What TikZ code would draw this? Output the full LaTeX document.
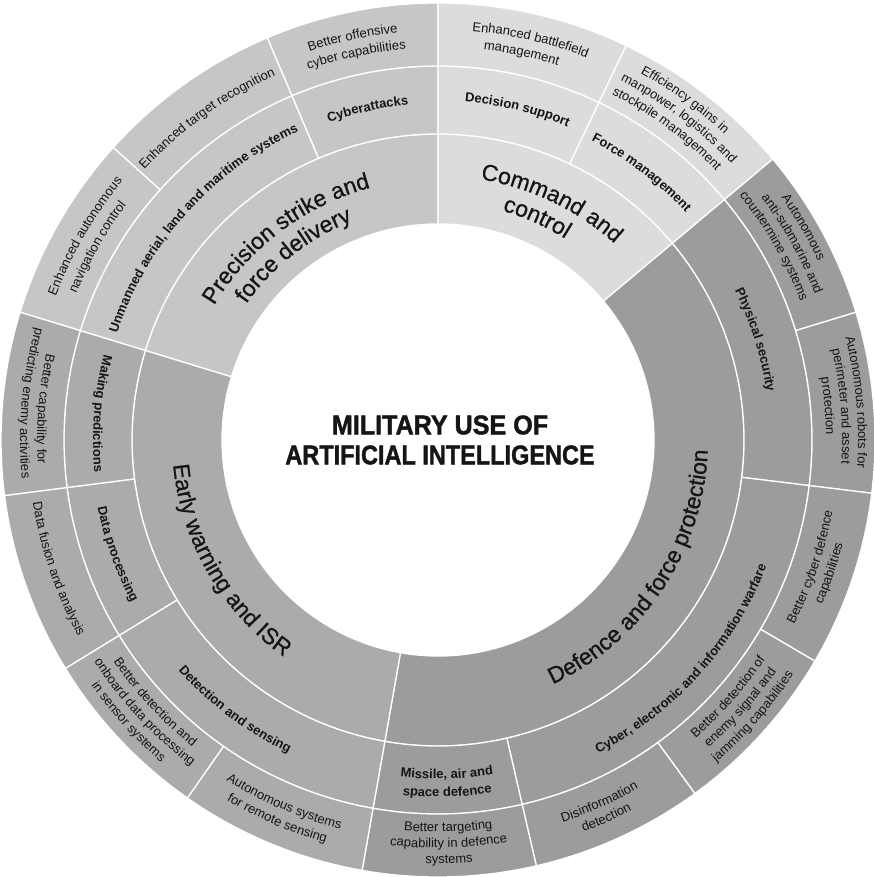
\documentclass[tikz,border=0pt]{standalone}
\usepackage{fontspec}
\usepackage{graphicx}
\setmainfont{Liberation Sans}
\newfontfamily\titlefont{Liberation Sans Bold}[FakeBold=1.6]
\newfontfamily\catfont{Liberation Sans}[FakeBold=0.7]
\usetikzlibrary{decorations.text}
\definecolor{cP}{HTML}{C6C6C6}
\definecolor{cC}{HTML}{DCDCDC}
\definecolor{cD}{HTML}{9C9C9C}
\definecolor{cE}{HTML}{ABABAB}
\definecolor{ink}{HTML}{151515}
\tikzset{segline/.style={draw=white,line width=1.3pt}}
% #1 start angle, #2 end angle, #3 inner radius, #4 outer radius, #5 colour
\newcommand\ringseg[5]{%
  \filldraw[segline,fill=#5] (#1:#3pt) arc[start angle=#1,end angle=#2,radius=#3pt]
    -- (#2:#4pt) arc[start angle=#2,end angle=#1,radius=#4pt] -- cycle;}
% #1 mid angle, #2 radius of text centre, #3 t (clockwise, tops out) / b (anticlockwise, tops in),
% #4 font size, #5 font switches, #6 text
\newcommand\arclabel[6]{%
  \pgfmathsetmacro\lsa{#1+45}%
  \pgfmathsetmacro\lea{#1-45}%
  \if#3t%
    \pgfmathsetmacro\lrb{#2-0.3*#4}%
    \path[decorate,decoration={text along path,text align=center,text color=ink,
      text={|\fontsize{#4}{#4}\selectfont#5|#6}}]
      (\lsa:\lrb pt) arc[start angle=\lsa,end angle=\lea,radius=\lrb pt];%
  \else
    \pgfmathsetmacro\lrb{#2+0.3*#4}%
    \path[decorate,decoration={text along path,text align=center,text color=ink,
      text={|\fontsize{#4}{#4}\selectfont#5|#6}}]
      (\lea:\lrb pt) arc[start angle=\lea,end angle=\lsa,radius=\lrb pt];%
  \fi}
\begin{document}
\begin{tikzpicture}
\useasboundingbox[fill=white] (-438pt,-437pt) rectangle (435pt,440pt);
% level 1
\ringseg{90}{163}{216}{306}{cP}
\ringseg{40}{90}{216}{306}{cC}
\ringseg{-100}{40}{216}{306}{cD}
\ringseg{163}{260}{216}{306}{cE}
% level 2
\ringseg{90}{113}{306}{374}{cP}
\ringseg{113}{163}{306}{374}{cP}
\ringseg{64.5}{90}{306}{374}{cC}
\ringseg{40}{64.5}{306}{374}{cC}
\ringseg{-7}{40}{306}{374}{cD}
\ringseg{-77}{-7}{306}{374}{cD}
\ringseg{-100}{-77}{306}{374}{cD}
\ringseg{211.5}{260}{306}{374}{cE}
\ringseg{187.3}{211.5}{306}{374}{cE}
\ringseg{163}{187.3}{306}{374}{cE}
% level 3
\ringseg{90}{113}{374}{437}{cP}
\ringseg{113}{138}{374}{437}{cP}
\ringseg{138}{163}{374}{437}{cP}
\ringseg{64.5}{90}{374}{437}{cC}
\ringseg{40}{64.5}{374}{437}{cC}
\ringseg{17}{40}{374}{437}{cD}
\ringseg{-7}{17}{374}{437}{cD}
\ringseg{-30.4}{-7}{374}{437}{cD}
\ringseg{-54}{-30.4}{374}{437}{cD}
\ringseg{-77}{-54}{374}{437}{cD}
\ringseg{-100}{-77}{374}{437}{cD}
\ringseg{235}{260}{374}{437}{cE}
\ringseg{211.5}{235}{374}{437}{cE}
\ringseg{187.3}{211.5}{374}{437}{cE}
\ringseg{163}{187.3}{374}{437}{cE}
% centre title
\node[font=\fontsize{27}{30}\selectfont\titlefont,text=ink,align=center] (title) at (2pt,0pt)
  {\scalebox{0.93}[1]{MILITARY USE OF}\\\scalebox{0.87}[1]{ARTIFICIAL INTELLIGENCE}};
% level 1 labels
\arclabel{127}{268}{t}{23}{\catfont}{Precision strike and}
\arclabel{128}{242}{t}{23}{\catfont}{force delivery}
\arclabel{64.4}{271}{t}{23}{\catfont}{Command and}
\arclabel{66}{245}{t}{23}{\catfont}{control}
\arclabel{210}{259}{b}{23}{\catfont}{Early warning and ISR}
\arclabel{-33.5}{263}{b}{23}{\catfont}{Defence and force protection}
% level 2 labels
\arclabel{102}{340}{t}{13}{\bfseries}{Cyberattacks}
\arclabel{138}{342}{t}{13}{\bfseries}{Unmanned aerial, land and maritime systems}
\arclabel{76.5}{343}{t}{13}{\bfseries}{Decision support}
\arclabel{52.7}{340}{t}{13}{\bfseries}{Force management}
\arclabel{17.5}{336}{t}{13}{\bfseries}{Physical security}
\arclabel{-42}{348}{b}{13}{\bfseries}{Cyber, electronic and information warfare}
\arclabel{-88.5}{335}{b}{13}{\bfseries}{Missile, air and}
\arclabel{-88.5}{353}{b}{13}{\bfseries}{space defence}
\arclabel{233}{343}{b}{13}{\bfseries}{Detection and sensing}
\arclabel{199.6}{343}{b}{13}{\bfseries}{Data processing}
\arclabel{175.5}{341}{b}{13}{\bfseries}{Making predictions}
% level 3 labels
\arclabel{102}{413}{t}{13}{}{Better offensive}
\arclabel{102}{396}{t}{13}{}{cyber capabilities}
\arclabel{125.7}{403}{t}{13}{}{Enhanced target recognition}
\arclabel{150}{412}{t}{13}{}{Enhanced autonomous}
\arclabel{150.5}{394}{t}{13}{}{navigation control}
\arclabel{77}{414}{t}{13}{}{Enhanced battlefield}
\arclabel{77.8}{397}{t}{13}{}{management}
\arclabel{54}{423}{t}{13}{}{Efficiency gains in}
\arclabel{53.2}{407}{t}{13}{}{manpower, logistics and}
\arclabel{53.7}{391}{t}{13}{}{stockpile management}
\arclabel{30.2}{424}{t}{13}{}{Autonomous}
\arclabel{29}{408}{t}{13}{}{anti-submarine and}
\arclabel{30}{392}{t}{13}{}{countermine systems}
\arclabel{5.2}{424}{t}{13}{}{Autonomous robots for}
\arclabel{4.8}{408}{t}{13}{}{perimeter and asset}
\arclabel{5}{392}{t}{13}{}{protection}
\arclabel{-18.8}{397}{b}{13}{}{Better cyber defence}
\arclabel{-18.8}{414}{b}{13}{}{capabilities}
\arclabel{-41.5}{390}{b}{13}{}{Better detection of}
\arclabel{-41.5}{406}{b}{13}{}{enemy signal and}
\arclabel{-41.3}{422}{b}{13}{}{jamming capabilities}
\arclabel{-66}{398}{b}{13}{}{Disinformation}
\arclabel{-66}{414}{b}{13}{}{detection}
\arclabel{-88.5}{388}{b}{13}{}{Better targeting}
\arclabel{-88.5}{404}{b}{13}{}{capability in defence}
\arclabel{-88.5}{420}{b}{13}{}{systems}
\arclabel{247}{397}{b}{13}{}{Autonomous systems}
\arclabel{247}{414}{b}{13}{}{for remote sensing}
\arclabel{222.8}{389}{b}{13}{}{Better detection and}
\arclabel{222.8}{405}{b}{13}{}{onboard data processing}
\arclabel{222.3}{421}{b}{13}{}{in sensor systems}
\arclabel{198.7}{406}{b}{13}{}{Data fusion and analysis}
\arclabel{175.5}{397}{b}{13}{}{Better capability for}
\arclabel{174.8}{414}{b}{13}{}{predicting enemy activities}
\end{tikzpicture}
\end{document}
